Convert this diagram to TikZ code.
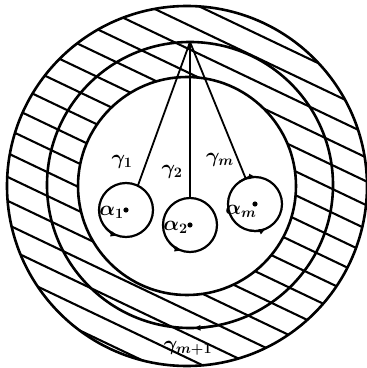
\documentclass[tikz,border=0pt]{standalone}
\usetikzlibrary{arrows.meta, positioning}
\tikzstyle{ring} = [line width=2.6pt]
\tikzstyle{hatch} = [line width=2.1pt]
\tikzstyle{hole} = [circle, draw, line width=2.2pt, minimum size=54pt, inner sep=0pt, outer sep=0pt]
\tikzstyle{cut} = [line width=1.8pt]
\tikzstyle{tip} = [line width=2pt, -{Latex[length=8pt, width=6pt]}]
\tikzstyle{lab} = [font=\huge\boldmath, inner sep=0pt]

\begin{document}
\begin{tikzpicture}[x=1pt, y=1pt]
        \useasboundingbox (0,0) rectangle (367,368);
        \coordinate (o) at (187,182);
        \coordinate (m) at (190,183);

        % Rayado
        \begin{scope}
            \clip (o) circle (180);
            \begin{scope}[shift={(o)}, rotate=-25.5]
                \foreach \j in {-9,...,9}
                    \draw [hatch] (-190,{-4.6+21.5*\j}) -- (190,{-4.6+21.5*\j});
            \end{scope}
        \end{scope}
        \fill [white] (o) circle (109);

        % Circunferencias
        \draw [ring] (o) circle (180);
        \draw [ring] (m) circle (143);
        \draw [ring] (o) circle (109);
        \draw [tip] (m) ++(-78:143) arc [start angle=-78, end angle=-89, radius=143];

        % Nodos
        \coordinate (apex) at (190,326);
        \node [hole] (a1) at (126,158) {};
        \node [hole] (a2) at (190,143) {};
        \node [hole] (am) at (255,164) {};
        \foreach \n in {a1, a2, am}
            \fill (\n.center) circle (2.6);

        \node [lab, left=2pt of a1.center, yshift=-2pt] (l1) {$\alpha_1$};
        \node [lab, left=2pt of a2.center, yshift=-2pt] (l2) {$\alpha_2$};
        \node [lab] (lm) at (241,157) {$\alpha_m$};

        \node [lab] (g1) at (122,206) {$\gamma_1$};
        \node [lab] (g2) at (172,196) {$\gamma_2$};
        \node [lab] (gm) at (220,208) {$\gamma_m$};
        \node [lab] (gn) at (188,20) {$\gamma_{m+1}$};

        % Lineas
        \draw [cut] (apex) -- (a1.64);
        \draw [cut] (apex) -- (a2.90);
        \draw [cut] (apex) -- (am.110);

        % Orientacion
        \draw [tip] (a1.-140) arc [start angle=-140, end angle=-106, radius=27];
        \draw [tip] (a2.-140) arc [start angle=-140, end angle=-106, radius=27];
        \draw [tip] (am.125) arc [start angle=125, end angle=86, radius=27];
        \draw [tip] (am.-100) arc [start angle=-100, end angle=-64, radius=27];
    \end{tikzpicture}
\end{document}
